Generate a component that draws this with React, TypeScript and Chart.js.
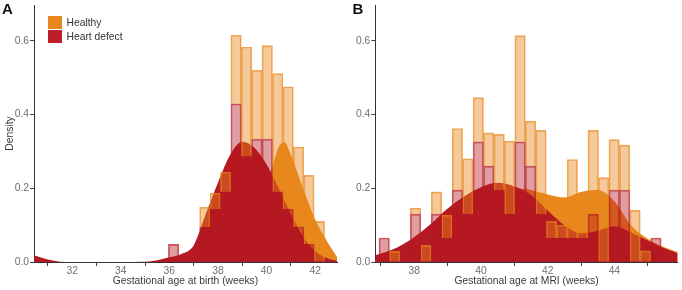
import React, { useEffect, useRef } from "react";
import { Chart, registerables } from "chart.js";

Chart.register(...registerables);

const FONT = "'Liberation Sans', Arial, Helvetica, sans-serif";
Chart.defaults.font.family = FONT;

const HEALTHY = "rgb(232,136,28)";
const DEFECT = "rgb(181,25,34)";

// ---- Panel A: gestational age at birth ----
const birthBinCentres = [36.174, 36.603, 37.031, 37.46, 37.889, 38.317, 38.746, 39.174, 39.603, 40.031, 40.46, 40.889, 41.317, 41.746, 42.174];
const birthDefectHist = [0.048, null, null, 0.095, 0.143, 0.19, 0.429, 0.286, 0.333, 0.333, 0.19, 0.143, 0.095, 0.048, null];
const birthHealthyHist = [null, null, null, 0.054, 0.044, 0.054, 0.186, 0.297, 0.187, 0.254, 0.321, 0.332, 0.217, 0.187, 0.11];

const birthDefectKdeX = [30.43, 31, 31.5, 32, 33, 34, 35, 35.5, 36, 36.5, 37, 37.5, 38, 38.5, 39, 39.5, 40, 40.5, 41, 41.5, 42, 42.5, 42.9];
const birthDefectKdeY = [0.018, 0.007, 0.001, 0, 0, 0, 0.001, 0.005, 0.013, 0.022, 0.045, 0.13, 0.215, 0.29, 0.326, 0.31, 0.265, 0.2, 0.131, 0.07, 0.03, 0.01, 0.003];
const birthHealthyKdeX = [36.5, 37, 37.5, 38, 38.5, 39, 39.5, 40, 40.25, 40.5, 40.75, 41, 41.5, 42, 42.5, 42.9];
const birthHealthyKdeY = [0.002, 0.008, 0.03, 0.07, 0.11, 0.15, 0.185, 0.215, 0.26, 0.312, 0.324, 0.29, 0.2, 0.116, 0.055, 0.014];

const birthTicks = [32, 34, 36, 38, 40, 42];

// ---- Panel B: gestational age at MRI ----
const mriBinCentres = [37.097, 37.411, 37.724, 38.038, 38.351, 38.665, 38.978, 39.292, 39.605, 39.919, 40.232, 40.546, 40.859, 41.173, 41.486, 41.8, 42.113, 42.427, 42.74, 43.054, 43.367, 43.681, 43.994, 44.308, 44.621, 44.935, 45.248];
const mriDefectHist = [0.065, null, null, 0.13, null, 0.13, 0.065, 0.195, 0.13, 0.326, 0.26, 0.195, 0.13, 0.326, 0.26, 0.13, 0.065, 0.065, 0.065, 0.065, 0.13, null, 0.195, 0.195, null, null, 0.065];
const mriHealthyHist = [null, 0.029, null, 0.016, 0.045, 0.06, 0.062, 0.167, 0.15, 0.12, 0.09, 0.151, 0.198, 0.288, 0.122, 0.227, 0.045, 0.035, 0.213, 0.035, 0.227, 0.229, 0.137, 0.122, 0.14, 0.03, null];

const mriKdeX = [36.83, 37.5, 38, 38.5, 39, 39.5, 40, 40.5, 41, 41.5, 42, 42.5, 43, 43.5, 44, 44.5, 45, 45.5, 45.9];
const mriDefectKdeY = [0.018, 0.04, 0.068, 0.104, 0.145, 0.178, 0.203, 0.215, 0.205, 0.182, 0.14, 0.1, 0.078, 0.085, 0.097, 0.08, 0.058, 0.037, 0.024];
const mriHealthyKdeY = [0.006, 0.02, 0.045, 0.08, 0.12, 0.155, 0.18, 0.195, 0.2, 0.195, 0.183, 0.175, 0.19, 0.195, 0.165, 0.1, 0.063, 0.04, 0.027];

const mriTicks = [38, 40, 42, 44];

const densityTicks = [0, 0.2, 0.4, 0.6];

const pts = (xs: number[], ys: (number | null)[]) => xs.map((x, i) => ({ x, y: ys[i] }));

type PanelProps = {
  binCentres: number[];
  defectHist: (number | null)[];
  healthyHist: (number | null)[];
  defectKdeX: number[];
  defectKdeY: number[];
  healthyKdeX: number[];
  healthyKdeY: number[];
  xMin: number;
  xMax: number;
  xTicks: number[];
  xTitle: string;
  yTitle: string;
  axisWidth: number;
  rightPad: number;
};

function DensityPanel(p: PanelProps) {
  const ref = useRef<HTMLCanvasElement | null>(null);

  useEffect(() => {
    if (!ref.current) return;
    const textFont = { family: FONT, size: 10.3 };
    const chart = new Chart(ref.current, {
      type: "bar",
      data: {
        datasets: [
          {
            type: "bar",
            label: "Heart defect",
            data: pts(p.binCentres, p.defectHist),
            backgroundColor: "rgba(181,25,34,0.42)",
            borderColor: "rgba(181,25,34,0.7)",
            borderWidth: 1,
            barPercentage: 1,
            categoryPercentage: 1,
            stack: "hist",
            order: 0,
          },
          {
            type: "bar",
            label: "Healthy",
            data: pts(p.binCentres, p.healthyHist),
            backgroundColor: "rgba(232,136,28,0.45)",
            borderColor: "rgba(232,136,28,0.7)",
            borderWidth: 1,
            barPercentage: 1,
            categoryPercentage: 1,
            stack: "hist",
            order: 1,
          },
          {
            type: "line",
            label: "Heart defect density",
            data: pts(p.defectKdeX, p.defectKdeY),
            backgroundColor: DEFECT,
            borderColor: "rgba(0,0,0,0)",
            borderWidth: 0,
            pointRadius: 0,
            fill: "origin",
            cubicInterpolationMode: "monotone",
            stack: "kdeDefect",
            order: 2,
          },
          {
            type: "line",
            label: "Healthy density",
            data: pts(p.healthyKdeX, p.healthyKdeY),
            backgroundColor: HEALTHY,
            borderColor: "rgba(0,0,0,0)",
            borderWidth: 0,
            pointRadius: 0,
            fill: "origin",
            cubicInterpolationMode: "monotone",
            stack: "kdeHealthy",
            order: 3,
          },
        ],
      } as any,
      options: {
        animation: false,
        responsive: false,
        devicePixelRatio: 1,
        layout: { padding: { top: 5, right: p.rightPad, left: 0, bottom: 0 } },
        plugins: { legend: { display: false }, tooltip: { enabled: false } },
        scales: {
          x: {
            type: "linear",
            min: p.xMin,
            max: p.xMax,
            offset: false,
            afterBuildTicks: (axis: any) => {
              axis.ticks = p.xTicks.map((v) => ({ value: v }));
            },
            afterFit: (axis: any) => {
              axis.height = 28;
              axis.paddingLeft = 0;
              axis.paddingRight = 0;
            },
            grid: { drawOnChartArea: false, tickLength: 4, tickColor: "#444", lineWidth: 1 },
            border: { display: true, color: "#333", width: 1 },
            ticks: {
              font: textFont,
              color: "#6f6f6f",
              padding: -1.5,
              maxRotation: 0,
              autoSkip: false,
              callback: (v: any) => String(v),
            },
            title: {
              display: true,
              text: p.xTitle,
              font: textFont,
              color: "#3a3a3a",
              padding: { top: 0, bottom: 2.5 },
            },
          },
          y: {
            type: "linear",
            min: 0,
            max: 0.697,
            stacked: true,
            afterBuildTicks: (axis: any) => {
              axis.ticks = densityTicks.map((v) => ({ value: v }));
            },
            afterFit: (axis: any) => {
              axis.width = p.axisWidth;
              axis.paddingTop = 0;
              axis.paddingBottom = 0;
            },
            grid: { drawOnChartArea: false, tickLength: 4, tickColor: "#444", lineWidth: 1 },
            border: { display: true, color: "#333", width: 1 },
            ticks: {
              font: textFont,
              color: "#6f6f6f",
              padding: 1,
              callback: (v: any) => Number(v).toFixed(1),
            },
            title: {
              display: p.yTitle !== "",
              text: p.yTitle,
              font: textFont,
              color: "#3a3a3a",
              padding: { top: 3.8, bottom: 0 },
            },
          },
        },
      } as any,
    });
    return () => chart.destroy();
  }, []);

  return <canvas ref={ref} width={341} height={290} style={{ display: "block", width: 341, height: 290 }} />;
}

const letterStyle: React.CSSProperties = {
  position: "absolute",
  top: 1,
  fontFamily: FONT,
  fontWeight: 700,
  fontSize: 15,
  lineHeight: "15px",
  color: "#111",
};

const legendText: React.CSSProperties = {
  position: "absolute",
  left: 66.5,
  fontFamily: FONT,
  fontSize: 10.3,
  lineHeight: "13.5px",
  color: "#333",
  whiteSpace: "nowrap",
};

export default function App() {
  return (
    <div style={{ position: "fixed", left: 0, top: 0, width: 682, height: 290, background: "#fff", overflow: "hidden" }}>
      <div style={{ position: "absolute", left: 0, top: 0 }}>
        <DensityPanel
          binCentres={birthBinCentres}
          defectHist={birthDefectHist}
          healthyHist={birthHealthyHist}
          defectKdeX={birthDefectKdeX}
          defectKdeY={birthDefectKdeY}
          healthyKdeX={birthHealthyKdeX}
          healthyKdeY={birthHealthyKdeY}
          xMin={30.43}
          xMax={42.9}
          xTicks={birthTicks}
          xTitle="Gestational age at birth (weeks)"
          yTitle="Density"
          axisWidth={34}
          rightPad={4}
        />
      </div>
      <div style={{ position: "absolute", left: 341, top: 0 }}>
        <DensityPanel
          binCentres={mriBinCentres}
          defectHist={mriDefectHist}
          healthyHist={mriHealthyHist}
          defectKdeX={mriKdeX}
          defectKdeY={mriDefectKdeY}
          healthyKdeX={mriKdeX}
          healthyKdeY={mriHealthyKdeY}
          xMin={36.83}
          xMax={45.9}
          xTicks={mriTicks}
          xTitle="Gestational age at MRI (weeks)"
          yTitle=""
          axisWidth={34.3}
          rightPad={4.3}
        />
      </div>
      <div style={{ ...letterStyle, left: 2 }}>A</div>
      <div style={{ ...letterStyle, left: 352.5 }}>B</div>
      <div style={{ position: "absolute", left: 48.3, top: 16, width: 13.4, height: 13.4, background: HEALTHY }} />
      <div style={{ position: "absolute", left: 48.3, top: 30, width: 13.4, height: 13.4, background: "rgb(190,30,40)" }} />
      <div style={{ ...legendText, top: 16 }}>Healthy</div>
      <div style={{ ...legendText, top: 30 }}>Heart defect</div>
    </div>
  );
}
